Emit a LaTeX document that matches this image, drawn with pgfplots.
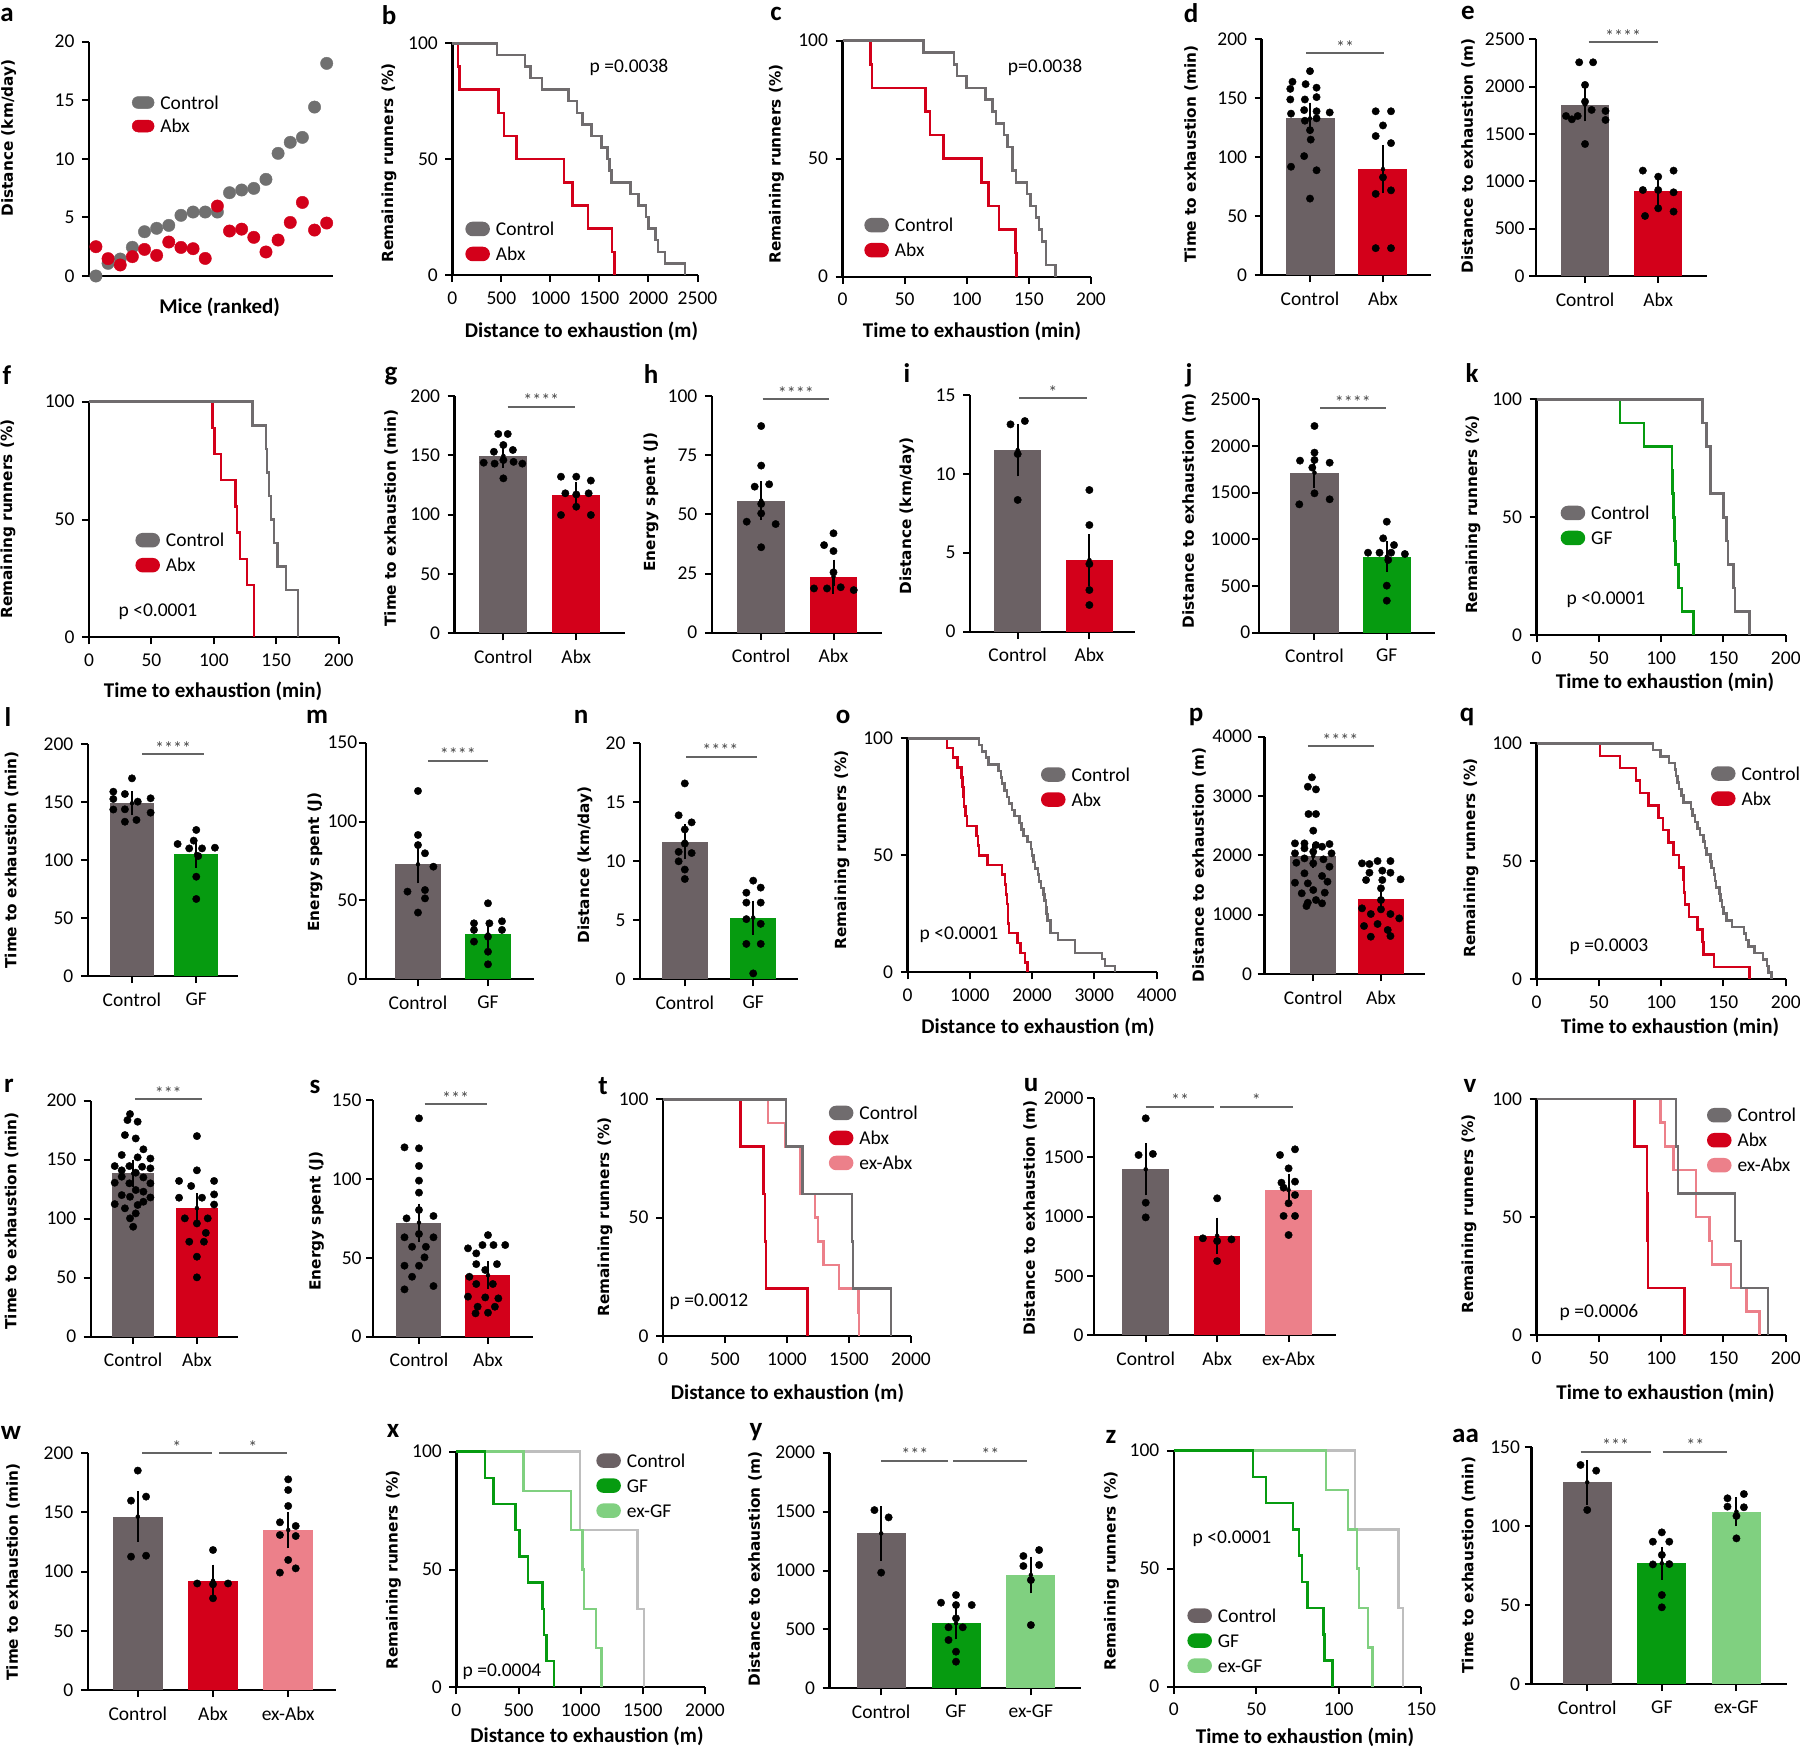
\documentclass[border=0pt]{standalone}
\usepackage{fontspec}
\setmainfont{Carlito}
\newfontfamily\dvs{DejaVu Sans}
\usepackage{pgfplots}
\pgfplotsset{compat=1.18}
\definecolor{cgray}{RGB}{107,97,100}
\definecolor{kmgray}{RGB}{112,108,110}
\definecolor{dotgray}{RGB}{112,112,112}
\definecolor{cred}{RGB}{211,0,26}
\definecolor{cgreen}{RGB}{6,155,16}
\definecolor{lgreen}{RGB}{128,208,128}
\definecolor{cpink}{RGB}{236,128,138}
\definecolor{vlgray}{RGB}{190,190,190}
\definecolor{siggray}{RGB}{100,100,100}
\definecolor{stargray}{RGB}{70,70,70}
\newcommand{\tf}{\fontsize{19.5}{22}\selectfont}
\newcommand{\stf}{\fontsize{18}{20}\selectfont}
\newcommand{\xlf}{\fontsize{21}{24}\selectfont\bfseries}
\newcommand{\ylf}{\dvs\bfseries\fontsize{15.3}{18}\selectfont}
\newcommand{\plf}{\fontsize{27}{30}\selectfont\bfseries}
\newcommand{\PL}[3]{\node[font=\plf, inner sep=0pt] at (#1pt,-#2pt) {#3};}
\newcommand{\YL}[3]{\node[font=\ylf, rotate=90, inner sep=0pt] at (#1pt,-#2pt) {#3};}
\newcommand{\XL}[3]{\node[font=\xlf, inner sep=0pt] at (#1pt,-#2pt) {#3};}
\newcommand{\PV}[3]{\node[font=\tf, inner sep=0pt] at (#1pt,-#2pt) {#3};}
\pgfplotsset{
  base/.style={scale only axis, anchor=south west, clip=false,
    axis x line*=bottom, axis y line*=left,
    axis line style={line width=2.3pt, black, -},
    tick style={line width=2pt, black},
    major tick length=7pt, tick align=outside,
    ticklabel style={font=\tf},
    xticklabel style={yshift=-6pt},
    yticklabel style={xshift=-4pt},
    /pgf/number format/assume math mode=true,
    /pgf/number format/1000 sep={},
    ymin=0,
    legend cell align=left,
    legend style={draw=none, fill=none, inner sep=0pt, outer sep=0pt, font=\tf, anchor=north west, row sep=10.5pt, column sep=6pt, nodes={inner sep=0pt, text height=13pt, text depth=0pt}},
  },
  km/.style={base, ymax=100, ytick={0,50,100}, xmin=0},
  bars/.style={base},
  pill/.style={legend image code/.code={\fill[#1, rounded corners=6pt] (0pt,-6pt) rectangle (22pt,6pt);}},
  kml/.style={const plot, line width=2.5pt, mark=none},
  eb/.style={forget plot, only marks, mark=none, error bars/.cd, y dir=both, y explicit, error bar style={line width=2pt, black}, error mark options={line width=2pt, black, mark size=8pt}},
  dots/.style={forget plot, only marks, mark=*, mark size=3.7pt, black},
  sig/.style={forget plot, siggray, line width=2pt},
  bb/.style={forget plot, ybar, bar shift=0pt, draw=none, fill=#1},
}
\tikzset{star/.style={font=\stf, text=stargray, anchor=base, inner sep=0pt}}
\begin{document}
\begin{tikzpicture}
\useasboundingbox (0pt,0pt) rectangle (1800pt,-1747pt);
% ---------- a
\begin{axis}[base, at={(89pt,-276pt)}, width=244pt, height=234.3pt, xmin=-0.57, xmax=19.52, ymax=20, ytick={0,5,10,15,20}, xtick=\empty, legend style={at={(0.176,0.768)}}]
\addplot[only marks, mark=*, mark size=6.2pt, color=dotgray, pill=dotgray] coordinates {(0,0)(1,1.08)(2,1.45)(3,2.45)(4,3.78)(5,4.07)(6,4.32)(7,5.18)(8,5.46)(9,5.46)(10,5.46)(11,7.11)(12,7.34)(13,7.48)(14,8.25)(15,10.47)(16,11.41)(17,11.83)(18,14.42)(19,18.15)};
\addlegendentry{Control}
\addplot[only marks, mark=*, mark size=6.2pt, color=cred, pill=cred] coordinates {(0,2.5)(1,1.48)(2,0.94)(3,1.65)(4,2.27)(5,1.76)(6,2.9)(7,2.44)(8,2.33)(9,1.5)(10,5.97)(11,3.84)(12,4.0)(13,3.3)(14,2.05)(15,3.07)(16,4.57)(17,6.28)(18,3.92)(19,4.52)};
\addlegendentry{Abx}
\end{axis}
% ---------- b
\begin{axis}[km, at={(452.4pt,-275pt)}, width=245.1pt, height=231.7pt, xmax=2500, xtick={0,500,1000,1500,2000,2500}, legend style={at={(0.053,0.230)}}]
\addplot[kml, kmgray, pill=kmgray] coordinates {(0,100)(457,95)(743,90)(796,85)(913,80)(1183,75)(1270,70)(1329,65)(1417,60)(1522,55)(1581,50)(1600,45)(1622,40)(1815,35)(1897,30)(1973,25)(2002,20)(2073,15)(2096,10)(2166,5)(2371,0)};
\addlegendentry{Control}
\addplot[kml, cred, pill=cred] coordinates {(0,100)(55,90)(70,80)(468,70)(527,60)(656,50)(1136,40)(1224,30)(1382,20)(1628,10)(1651,0)};
\addlegendentry{Abx}
\addplot[kml, kmgray, forget plot] coordinates {(0,100)(457,95)(743,90)(796,85)(913,80)(1183,75)(1270,70)(1329,65)(1417,60)(1522,55)(1581,50)(1600,45)(1622,40)(1815,35)(1897,30)(1973,25)(2002,20)(2073,15)(2096,10)(2166,5)(2371,0)};
\end{axis}
% ---------- c
\begin{axis}[km, at={(842.5pt,-276.7pt)}, width=248.5pt, height=236pt, xmax=200, xtick={0,50,100,150,200}, legend style={at={(0.088,0.249)}}]
\addplot[kml, kmgray, pill=kmgray] coordinates {(0,100)(65.2,95)(89.7,90)(92,85)(99.9,80)(115,75)(120.7,70)(123.4,65)(129.9,60)(132.7,55)(136.8,45)(139.6,40)(148.4,35)(151.2,30)(155.8,25)(158,20)(160.4,15)(163.6,5)(171.5,0)};
\addlegendentry{Control}
\addplot[kml, cred, pill=cred] coordinates {(0,100)(22.4,90)(23.8,80)(66.6,70)(70.3,60)(81.4,50)(111.9,40)(117.4,30)(125.8,20)(139.2,10)(140,0)};
\addlegendentry{Abx}
\addplot[kml, kmgray, forget plot] coordinates {(0,100)(65.2,95)(89.7,90)(92,85)(99.9,80)(115,75)(120.7,70)(123.4,65)(129.9,60)(132.7,55)(136.8,45)(139.6,40)(148.4,35)(151.2,30)(155.8,25)(158,20)(160.4,15)(163.6,5)(171.5,0)};
\end{axis}
% ---------- d
\begin{axis}[bars, at={(1261.6pt,-275.3pt)}, width=169.4pt, height=236pt, xmin=-0.663, xmax=1.658, ymax=200, ytick={0,50,100,150,200}, xtick={0,1}, xticklabels={Control,Abx}]
\addplot[bb=cgray, bar width=49pt] coordinates {(0,133)};
\addplot[bb=cred, bar width=49pt] coordinates {(1,90)};
\addplot[eb] coordinates {(0,133) +- (0,6.5) (1,90) +- (0,13.7)};
\addplot[dots] coordinates {(-0.24,164)(0,173)(-0.27,158)(-0.06,162)(0.09,159)(-0.27,149)(-0.07,149)(0.09,151)(-0.26,137)(-0.08,140)(0.09,139)(0.27,138)(-0.07,131)(0.09,133)(0,123)(0.01,115)(-0.08,101)(-0.26,92)(0.09,89)(0,65)};
\addplot[dots] coordinates {(0.9,139)(1.11,139)(1,127)(0.9,118)(1.11,112)(1,83)(0.9,69)(1.11,72)(0.9,23)(1.11,23)};
\addplot[sig] coordinates {(-0.05,188.1)(1.01,188.1)};
\node[star] at (axis cs:0.48,188.1) {**};
\end{axis}
% ---------- e
\begin{axis}[bars, at={(1536pt,-276pt)}, width=170.5pt, height=236.7pt, xmin=-0.67, xmax=1.66, ymax=2500, ytick={0,500,1000,1500,2000,2500}, xtick={0,1}, xticklabels={Control,Abx}, yticklabel style={xshift=3pt}]
\addplot[bb=cgray, bar width=48.5pt] coordinates {(0,1810)};
\addplot[bb=cred, bar width=48.5pt] coordinates {(1,894)};
\addplot[eb] coordinates {(0,1810) +- (0,92) (1,894) +- (0,58)};
\addplot[dots] coordinates {(-0.08,2257)(0.11,2257)(0,2018)(0,1842)(-0.26,1690)(-0.1,1690)(0.09,1754)(0.28,1743)(-0.18,1655)(0.28,1648)(0,1394)};
\addplot[dots] coordinates {(0.79,1113)(1,1049)(1.21,1113)(0.79,908)(1,908)(1.21,884)(0.82,634)(1,715)(1.21,680)};
\addplot[sig] coordinates {(0.05,2468)(1.0,2468)};
\node[star] at (axis cs:0.52,2468) {****};
\end{axis}
% ---------- f
\begin{axis}[km, at={(89pt,-637.3pt)}, width=249.7pt, height=235.6pt, xmax=200, xtick={0,50,100,150,200}, legend style={at={(0.186,0.443)}}]
\addplot[kml, kmgray, pill=kmgray] coordinates {(0,100)(131,90)(141.6,80)(142.5,70)(144,60)(145.7,50)(148,40)(150.8,30)(157.7,20)(167.4,0)};
\addlegendentry{Control}
\addplot[kml, cred, pill=cred] coordinates {(0,100)(98.9,88.9)(100.7,77.8)(105.7,66.7)(117.2,55.6)(118.6,44.4)(120.9,33.3)(126.4,22.2)(132,0)};
\addlegendentry{Abx}
\addplot[kml, kmgray, forget plot] coordinates {(0,100)(131,90)(141.6,80)(142.5,70)(144,60)(145.7,50)(148,40)(150.8,30)(157.7,20)(167.4,0)};
\end{axis}
% ---------- g
\begin{axis}[bars, at={(454.6pt,-633.3pt)}, width=170pt, height=237.3pt, xmin=-0.669, xmax=1.663, ymax=200, ytick={0,50,100,150,200}, xtick={0,1}, xticklabels={Control,Abx}]
\addplot[bb=cgray, bar width=48pt] coordinates {(0,149.5)};
\addplot[bb=cred, bar width=48pt] coordinates {(1,116.6)};
\addplot[eb] coordinates {(0,149.5) +- (0,3.4) (1,116.6) +- (0,4.3)};
\addplot[dots] coordinates {(-0.07,168)(0.06,168)(0,158.7)(-0.13,153)(0.13,154.5)(-0.27,143.8)(-0.12,143)(0,146)(0.14,144.5)(0.26,143)(0,130.6)};
\addplot[dots] coordinates {(0.79,132)(1,132)(1.2,128.7)(0.85,118)(1,117)(1.17,118)(0.79,99.7)(1,106.7)(1.2,99.7)};
\addplot[sig] coordinates {(0.06,191)(0.98,191)};
\node[star] at (axis cs:0.52,191) {****};
\end{axis}
% ---------- h
\begin{axis}[bars, at={(711.8pt,-632.7pt)}, width=170.5pt, height=236.7pt, xmin=-0.683, xmax=1.675, ymax=100, ytick={0,25,50,75,100}, xtick={0,1}, xticklabels={Control,Abx}]
\addplot[bb=cgray, bar width=47.6pt] coordinates {(0,55.8)};
\addplot[bb=cred, bar width=47.6pt] coordinates {(1,23.7)};
\addplot[eb] coordinates {(0,55.8) +- (0,4.9) (1,23.7) +- (0,3.8)};
\addplot[dots] coordinates {(0,87.3)(0,70.6)(-0.09,61.7)(0.11,62.7)(0,54.4)(-0.2,46.9)(0,50.4)(0.2,45.9)(0,36.1)};
\addplot[dots] coordinates {(1,42)(0.87,37)(1,34.5)(1,25.5)(0.73,18.7)(0.91,18.7)(1.1,19.2)(1.28,18)};
\addplot[sig] coordinates {(0.02,98.7)(0.94,98.7)};
\node[star] at (axis cs:0.48,98.7) {****};
\end{axis}
% ---------- i
\begin{axis}[bars, at={(970pt,-631.7pt)}, width=165.4pt, height=236.7pt, xmin=-0.665, xmax=1.642, ymax=15, ytick={0,5,10,15}, xtick={0,1}, xticklabels={Control,Abx}]
\addplot[bb=cgray, bar width=47.5pt] coordinates {(0,11.51)};
\addplot[bb=cred, bar width=47.5pt] coordinates {(1,4.54)};
\addplot[eb] coordinates {(0,11.51) +- (0,1.16) (1,4.54) +- (0,1.14)};
\addplot[dots] coordinates {(-0.1,13.14)(0.1,13.35)(0,11.26)(0,8.35)};
\addplot[dots] coordinates {(1,8.98)(1,6.76)(1,4.29)(1,2.64)(1,1.69)};
\addplot[sig] coordinates {(0.02,14.79)(0.96,14.79)};
\node[star] at (axis cs:0.49,14.79) {*};
\end{axis}
% ---------- j
\begin{axis}[bars, at={(1258.8pt,-632.7pt)}, width=176.2pt, height=233.4pt, xmin=-0.77, xmax=1.667, ymax=2500, ytick={0,500,1000,1500,2000,2500}, xtick={0,1}, xticklabels={Control,GF}, yticklabel style={xshift=6pt}]
\addplot[bb=cgray, bar width=48.5pt] coordinates {(0,1714)};
\addplot[bb=cgreen, bar width=48.5pt] coordinates {(1,814)};
\addplot[eb] coordinates {(0,1714) +- (0,80) (1,814) +- (0,78)};
\addplot[dots] coordinates {(0,2214)(0,1929)(-0.2,1843)(0,1850)(0.21,1821)(-0.03,1768)(-0.21,1375)(0,1493)(0.21,1429)};
\addplot[dots] coordinates {(1,1189)(0.95,1011)(1.1,939)(0.74,857)(0.9,857)(1.06,857)(1.25,843)(1.02,779)(1,504)(1,343)};
\addplot[sig] coordinates {(0.08,2404)(0.99,2404)};
\node[star] at (axis cs:0.53,2404) {****};
\end{axis}
% ---------- k
\begin{axis}[km, at={(1536.5pt,-635.3pt)}, width=249.3pt, height=236pt, xmax=200, xtick={0,50,100,150,200}, legend style={at={(0.097,0.549)}}]
\addplot[kml, kmgray, pill=kmgray] coordinates {(0,100)(133,90)(136.3,80)(139.5,60)(150.1,50)(152.4,40)(153.8,30)(158,20)(159.4,10)(170.9,0)};
\addlegendentry{Control}
\addplot[kml, cgreen, pill=cgreen] coordinates {(0,100)(67,90)(86.4,80)(108.5,70)(109,60)(110,50)(110.5,40)(111.5,30)(114,20)(116.9,10)(126.1,0)};
\addlegendentry{GF}
\addplot[kml, kmgray, forget plot] coordinates {(0,100)(133,90)(136.3,80)(139.5,60)(150.1,50)(152.4,40)(153.8,30)(158,20)(159.4,10)(170.9,0)};
\end{axis}
% ---------- l
\begin{axis}[bars, at={(87.8pt,-976pt)}, width=150.4pt, height=232pt, xmin=-0.687, xmax=1.652, ymax=200, ytick={0,50,100,150,200}, xtick={0,1}, xticklabels={Control,GF}]
\addplot[bb=cgray, bar width=44pt] coordinates {(0,148.9)};
\addplot[bb=cgreen, bar width=44pt] coordinates {(1,105.2)};
\addplot[eb] coordinates {(0,148.9) +- (0,3.6) (1,105.2) +- (0,5)};
\addplot[dots] coordinates {(0,170.4)(-0.29,158.9)(-0.11,156.9)(-0.29,152.6)(0.09,150.3)(0.29,153.2)(-0.11,143.7)(0.29,140.8)(-0.11,133)(0.07,134.5)(-0.29,143.5)};
\addplot[dots] coordinates {(1,125.9)(0.96,116.7)(0.71,113.8)(0.89,110)(1.09,110)(1.29,110.6)(1.03,103.4)(1,85.6)(1,66.4)};
\addplot[sig] coordinates {(0.16,191.1)(1.12,191.1)};
\node[star] at (axis cs:0.64,191.1) {****};
\end{axis}
% ---------- m
\begin{axis}[bars, at={(365.7pt,-979.3pt)}, width=168.2pt, height=236.6pt, xmin=-0.747, xmax=1.656, ymax=150, ytick={0,50,100,150}, xtick={0,1}, xticklabels={Control,GF}, yticklabel style={xshift=6pt}]
\addplot[bb=cgray, bar width=46pt] coordinates {(0,72.9)};
\addplot[bb=cgreen, bar width=46pt] coordinates {(1,28.5)};
\addplot[eb] coordinates {(0,72.9) +- (0,7) (1,28.5) +- (0,3.3)};
\addplot[dots] coordinates {(0,119.4)(0,91.5)(0,85.1)(0.1,79.9)(0.22,71.4)(-0.15,55.6)(0.1,56.6)(0.1,51.3)(0,42.3)};
\addplot[dots] coordinates {(1,48.2)(0.8,35.5)(1.02,35.5)(1.2,36.8)(0.8,31.3)(1,27)(1.2,31.3)(0.8,23.9)(1,17.5)(1,9.5)};
\addplot[sig] coordinates {(0.14,138.6)(1.0,138.6)};
\node[star] at (axis cs:0.57,138.6) {****};
\end{axis}
% ---------- n
\begin{axis}[bars, at={(640pt,-979.3pt)}, width=158pt, height=236pt, xmin=-0.655, xmax=1.655, ymax=20, ytick={0,5,10,15,20}, xtick={0,1}, xticklabels={Control,GF}]
\addplot[bb=cgray, bar width=46pt] coordinates {(0,11.67)};
\addplot[bb=cgreen, bar width=46pt] coordinates {(1,5.23)};
\addplot[eb] coordinates {(0,11.67) +- (0,0.8) (1,5.23) +- (0,0.77)};
\addplot[dots] coordinates {(0,16.6)(-0.09,13.9)(0.1,13.3)(0,12.7)(0,11.5)(-0.09,10.8)(0.1,10.7)(-0.09,10)(0,9.3)(0,8.5)};
\addplot[dots] coordinates {(1,8.36)(1.11,7.77)(0.9,7.34)(0.9,6.5)(1.11,6.5)(0.9,5.1)(1.11,4.7)(0.9,3.0)(1.11,3.0)(1,0.5)};
\addplot[sig] coordinates {(0.02,18.86)(1.05,18.86)};
\node[star] at (axis cs:0.52,18.86) {****};
\end{axis}
% ---------- o
\begin{axis}[km, at={(907.5pt,-972.3pt)}, width=249.1pt, height=234pt, xmax=4000, xtick={0,1000,2000,3000,4000}, legend style={at={(0.536,0.876)}}]
\addplot[kml, kmgray, pill=kmgray] coordinates {(0,100)(1150,97.2)(1200,94.4)(1260,91.7)(1300,88.9)(1464,86.1)(1500,83.3)(1517,80.6)(1560,77.8)(1600,75)(1630,72.2)(1680,69.4)(1720,66.7)(1796,63.9)(1830,61.1)(1860,58.3)(1930,55.6)(1981,52.8)(2000,50)(2020,47.2)(2050,44.4)(2092,41.7)(2110,38.9)(2140,36.1)(2183,33.3)(2200,30.6)(2220,27.8)(2235,25)(2250,22.2)(2300,16.7)(2414,13.9)(2689,8.3)(3122,5.6)(3170,2.8)(3331,0)};
\addlegendentry{Control}
\addplot[kml, cred, pill=cred] coordinates {(0,100)(634,95.8)(727,91.7)(801,87.5)(865,83.3)(885,79.2)(900,75)(911,70.8)(935,66.7)(958,62.5)(1105,58.3)(1130,54.2)(1150,50)(1281,45.8)(1520,41.7)(1565,37.5)(1580,33.3)(1595,29.2)(1610,20.8)(1630,16.7)(1769,12.5)(1815,8.3)(1886,4.2)(1925,0)};
\addlegendentry{Abx}
\addplot[kml, kmgray, forget plot] coordinates {(0,100)(1150,97.2)(1200,94.4)(1260,91.7)(1300,88.9)(1464,86.1)(1500,83.3)(1517,80.6)(1560,77.8)(1600,75)(1630,72.2)(1680,69.4)(1720,66.7)(1796,63.9)(1830,61.1)(1860,58.3)(1930,55.6)(1981,52.8)(2000,50)(2020,47.2)(2050,44.4)(2092,41.7)(2110,38.9)(2140,36.1)(2183,33.3)(2200,30.6)(2220,27.8)(2235,25)(2250,22.2)(2300,16.7)(2414,13.9)(2689,8.3)(3122,5.6)(3170,2.8)(3331,0)};
\end{axis}
% ---------- p
\begin{axis}[bars, at={(1264.5pt,-974pt)}, width=160.8pt, height=237.3pt, xmin=-0.72, xmax=1.655, ymax=4000, ytick={0,1000,2000,3000,4000}, xtick={0,1}, xticklabels={Control,Abx}, yticklabel style={xshift=2pt}]
\addplot[bb=cgray, bar width=46pt] coordinates {(0,1989)};
\addplot[bb=cred, bar width=46pt] coordinates {(1,1258)};
\addplot[eb] coordinates {(0,1989) +- (0,60) (1,1258) +- (0,84)};
\addplot[dots] coordinates {(-0.02,3315)(-0.08,3157)(0.04,3112)(-0.07,2697)(0.04,2697)(0,2416)(-0.27,2202)(-0.13,2202)(0.04,2174)(0.24,2191)(-0.13,2118)(0.13,2146)(-0.27,2034)(0,2062)(0.27,2034)(-0.13,1949)(0.15,1933)(-0.25,1876)(0,1865)(0.24,1809)(-0.13,1697)(0.13,1652)(-0.27,1539)(-0.08,1528)(0.21,1556)(0,1416)(-0.17,1360)(0.17,1371)(0.04,1247)(-0.08,1202)(-0.1,1146)(0.13,1191)};
\addplot[dots] coordinates {(0.95,1904)(1.14,1904)(0.72,1865)(0.83,1854)(1.02,1742)(0.83,1708)(1.14,1708)(0.78,1584)(1.02,1584)(1.29,1596)(1,1444)(1,1247)(0.72,1107)(1,1090)(0.85,1011)(1.14,1011)(1.27,938)(0.75,809)(0.95,843)(1.1,742)(0.85,629)(1.14,640)};
\addplot[sig] coordinates {(-0.08,3843)(0.89,3843)};
\node[star] at (axis cs:0.4,3843) {****};
\end{axis}
% ---------- q
\begin{axis}[km, at={(1536.5pt,-979.3pt)}, width=249.3pt, height=236pt, xmax=200, xtick={0,50,100,150,200}, legend style={at={(0.700,0.9025)}}]
\addplot[kml, kmgray, pill=kmgray] coordinates {(0,100)(93.3,97.2)(99.3,94.4)(106.2,91.7)(110.9,88.9)(112,86.1)(113.2,83.3)(114.5,80.6)(116.4,77.8)(118,75)(123.8,72.2)(125,69.4)(127,66.7)(129.3,63.9)(131,61.1)(134,58.3)(135,55.6)(136.3,52.8)(139.5,50)(140.5,47.2)(142.3,44.4)(143.2,41.7)(144.1,38.9)(146.9,36.1)(147.8,33.3)(148.7,30.6)(150,27.8)(152.4,25)(157,22.2)(166.3,19.4)(168,16.7)(170,13.9)(175,11.1)(181.5,8.3)(184.8,5.6)(186,2.8)(188.5,0)};
\addlegendentry{Control}
\addplot[kml, cred, pill=cred] coordinates {(0,100)(50.8,94.7)(67,89.5)(80,84.2)(83,78.9)(90,73.7)(98,68.4)(101.6,63.2)(106,57.9)(110,52.6)(114.5,47.4)(117.8,42.1)(118.5,36.8)(119,31.6)(122.4,26.3)(129.3,21.1)(133,15.8)(134,10.5)(142.3,5.3)(171,0)};
\addlegendentry{Abx}
\addplot[kml, kmgray, forget plot] coordinates {(0,100)(93.3,97.2)(99.3,94.4)(106.2,91.7)(110.9,88.9)(112,86.1)(113.2,83.3)(114.5,80.6)(116.4,77.8)(118,75)(123.8,72.2)(125,69.4)(127,66.7)(129.3,63.9)(131,61.1)(134,58.3)(135,55.6)(136.3,52.8)(139.5,50)(140.5,47.2)(142.3,44.4)(143.2,41.7)(144.1,38.9)(146.9,36.1)(147.8,33.3)(148.7,30.6)(150,27.8)(152.4,25)(157,22.2)(166.3,19.4)(168,16.7)(170,13.9)(175,11.1)(181.5,8.3)(184.8,5.6)(186,2.8)(188.5,0)};
\end{axis}
% ---------- r
\begin{axis}[bars, at={(90.7pt,-1336.7pt)}, width=147.5pt, height=236pt, xmin=-0.667, xmax=1.648, ymax=200, ytick={0,50,100,150,200}, xtick={0,1}, xticklabels={Control,Abx}]
\addplot[bb=cgray, bar width=42pt] coordinates {(0,138.4)};
\addplot[bb=cred, bar width=42pt] coordinates {(1,109)};
\addplot[eb] coordinates {(0,138.4) +- (0,4.5) (1,109) +- (0,6)};
\addplot[dots] coordinates {(-0.05,188.7)(-0.09,183.6)(0.07,182.2)(-0.13,170.9)(0.04,168)(0.16,158.8)(-0.18,154)(0.07,152)(0.27,151)(-0.29,144.6)(-0.06,144.6)(0.14,144)(-0.18,141)(0.27,142.7)(0.04,139)(-0.18,135.6)(0.16,135)(-0.29,130.5)(-0.06,130)(0.27,130)(0.04,124.3)(0.16,122.9)(-0.18,120)(-0.05,118.6)(0.27,118)(0.16,114.4)(-0.29,112.4)(0.07,111.6)(-0.13,108.8)(0.04,104.5)(-0.05,100.3)(0,93.2)};
\addplot[dots] coordinates {(1,170)(1,141)(0.72,132)(1.27,132)(0.91,127.7)(1.27,120.6)(0.72,117.8)(1.08,117.8)(1.27,112)(0.81,100.3)(1.17,100.3)(1,96)(1.14,88)(0.88,80.5)(1.11,80.5)(1,67.8)(1,50.3)};
\addplot[sig] coordinates {(0.03,201.4)(1.08,201.4)};
\node[star] at (axis cs:0.55,201.4) {***};
\end{axis}
% ---------- s
\begin{axis}[bars, at={(373.1pt,-1336.7pt)}, width=159.6pt, height=236.7pt, xmin=-0.665, xmax=1.648, ymax=150, ytick={0,50,100,150}, xtick={0,1}, xticklabels={Control,Abx}, yticklabel style={xshift=3pt}]
\addplot[bb=cgray, bar width=45pt] coordinates {(0,72.3)};
\addplot[bb=cred, bar width=45pt] coordinates {(1,39)};
\addplot[eb] coordinates {(0,72.3) +- (0,6.9) (1,39) +- (0,3.6)};
\addplot[dots] coordinates {(0,138.4)(-0.21,120)(0,119.4)(0,108.2)(0,98.9)(0,91.3)(0,80.3)(0.21,76.5)(-0.18,75)(0,65.1)(-0.21,63)(0.21,63)(-0.1,57)(0.1,57)(0.08,50.3)(-0.21,45)(0,45)(-0.1,38)(0.21,32.1)(-0.21,30)};
\addplot[dots] coordinates {(1,64.4)(0.92,58.1)(1.08,58.1)(1.25,58.1)(0.71,56)(0.83,52.8)(0.83,46)(1.13,46)(0.96,42.3)(0.73,38)(0.83,33.4)(1.07,33.4)(0.71,25.4)(0.96,24.9)(1.15,24.3)(0.85,19)(1.1,19)(0.82,14.8)(1,15.2)};
\addplot[sig] coordinates {(0.08,147.3)(0.98,147.3)};
\node[star] at (axis cs:0.53,147.3) {***};
\end{axis}
% ---------- t
\begin{axis}[km, at={(663pt,-1336pt)}, width=248pt, height=236.7pt, xmax=2000, xtick={0,500,1000,1500,2000}, legend style={at={(0.669,0.973)}}]
\addplot[kml, kmgray, pill=kmgray] coordinates {(0,100)(993,80)(1123,60)(1525,40)(1534,20)(1839,0)};
\addlegendentry{Control}
\addplot[kml, cred, pill=cred] coordinates {(0,100)(624,80)(809,60)(823,40)(832,20)(1165,0)};
\addlegendentry{Abx}
\addplot[kml, cpink, pill=cpink] coordinates {(0,100)(846,90)(984,80)(1109,60)(1225,50)(1248,40)(1294,30)(1419,20)(1578,10)(1581,0)};
\addlegendentry{ex-Abx}
\addplot[kml, kmgray, forget plot] coordinates {(0,100)(993,80)(1123,60)(1525,40)(1534,20)(1839,0)};
\end{axis}
% ---------- u
\begin{axis}[bars, at={(1094pt,-1335pt)}, width=242.3pt, height=236.7pt, xmin=-0.724, xmax=2.668, ymax=2000, ytick={0,500,1000,1500,2000}, xtick={0,1,2}, xticklabels={Control,Abx,ex-Abx}, yticklabel style={xshift=4pt}]
\addplot[bb=cgray, bar width=46.5pt] coordinates {(0,1400)};
\addplot[bb=cred, bar width=46.5pt] coordinates {(1,839)};
\addplot[bb=cpink, bar width=46.5pt] coordinates {(2,1225)};
\addplot[eb] coordinates {(0,1400) +- (0,153) (1,839) +- (0,85) (2,1225) +- (0,70)};
\addplot[dots] coordinates {(0,1831)(-0.1,1521)(0.1,1530)(0,1118)(0,994)};
\addplot[dots] coordinates {(1,1155)(0.8,817)(1,794)(1.2,808)(1,625)};
\addplot[dots] coordinates {(2.09,1569)(1.88,1521)(2,1408)(1.9,1287)(2.09,1296)(1.93,1245)(2.09,1183)(2,1113)(1.93,1006)(2.09,1006)(2,845)};
\addplot[sig] coordinates {(0,1929)(0.96,1929)};
\addplot[sig] coordinates {(1.04,1929)(2.06,1929)};
\node[star] at (axis cs:0.48,1929) {**};
\node[star] at (axis cs:1.55,1929) {*};
\end{axis}
% ---------- v
\begin{axis}[km, at={(1536.5pt,-1335.3pt)}, width=249.3pt, height=236.3pt, xmax=200, xtick={0,50,100,150,200}, legend style={at={(0.684,0.962)}}]
\addplot[kml, kmgray, pill=kmgray] coordinates {(0,100)(111.8,80)(113.6,60)(159.4,40)(164,20)(185.7,0)};
\addlegendentry{Control}
\addplot[kml, cred, pill=cred] coordinates {(0,100)(78.5,80)(88.7,60)(89.2,40)(89.6,20)(118.7,0)};
\addlegendentry{Abx}
\addplot[kml, cpink, pill=cpink] coordinates {(0,100)(99.3,90)(103,80)(110,70)(128,50)(138.6,40)(140.9,30)(156.1,20)(168.6,10)(178.8,0)};
\addlegendentry{ex-Abx}
\addplot[kml, kmgray, forget plot] coordinates {(0,100)(111.8,80)(113.6,60)(159.4,40)(164,20)(185.7,0)};
\end{axis}
% ---------- w
\begin{axis}[bars, at={(87.8pt,-1690pt)}, width=248pt, height=236.7pt, xmin=-0.665, xmax=2.633, ymax=200, ytick={0,50,100,150,200}, xtick={0,1,2}, xticklabels={Control,Abx,ex-Abx}]
\addplot[bb=cgray, bar width=50pt] coordinates {(0,146.5)};
\addplot[bb=cred, bar width=50pt] coordinates {(1,92.4)};
\addplot[bb=cpink, bar width=50pt] coordinates {(2,135.2)};
\addplot[eb] coordinates {(0,146.5) +- (0,14.6) (1,92.4) +- (0,6.7) (2,135.2) +- (0,8.5)};
\addplot[dots] coordinates {(0,185.4)(-0.09,160)(0.11,163.4)(-0.09,112.7)(0.11,113.5)};
\addplot[dots] coordinates {(1,118.3)(0.79,90)(1,89.3)(1.2,90)(1,77.5)};
\addplot[dots] coordinates {(2,178)(2,169)(2,155.5)(1.89,141.7)(2.1,138.6)(1.89,131)(2.1,130.1)(2,109.9)(1.89,99.2)(2.1,102.8)};
\addplot[sig] coordinates {(0.06,200)(0.98,200)};
\addplot[sig] coordinates {(1.08,200)(1.98,200)};
\node[star] at (axis cs:0.52,200) {*};
\node[star] at (axis cs:1.53,200) {*};
\end{axis}
% ---------- x
\begin{axis}[km, at={(456.4pt,-1687.3pt)}, width=248.6pt, height=235.6pt, xmax=2000, xtick={0,500,1000,1500,2000}, legend style={at={(0.563,0.993)}}]
\addplot[kml, vlgray, pill=cgray] coordinates {(0,100)(993,66.7)(1455,33.3)(1510,0)};
\addlegendentry{Control}
\addplot[kml, cgreen, pill=cgreen] coordinates {(0,100)(231,88.9)(300,77.8)(476,66.7)(508,55.6)(577,44.4)(693,33.3)(706,22.2)(725,11.1)(785,0)};
\addlegendentry{GF}
\addplot[kml, lgreen, pill=lgreen] coordinates {(0,100)(540,83.3)(923,66.7)(1016,50)(1025,33.3)(1122,16.7)(1168,0)};
\addlegendentry{ex-GF}
\addplot[kml, cgreen, forget plot] coordinates {(0,100)(231,88.9)(300,77.8)(476,66.7)(508,55.6)(577,44.4)(693,33.3)(706,22.2)(725,11.1)(785,0)};
\end{axis}
% ---------- y
\begin{axis}[bars, at={(829.5pt,-1688.3pt)}, width=251.3pt, height=235.6pt, xmin=-0.69, xmax=2.667, ymax=2000, ytick={0,500,1000,1500,2000}, xtick={0,1,2}, xticklabels={Control,GF,ex-GF}]
\addplot[bb=cgray, bar width=49pt] coordinates {(0,1315)};
\addplot[bb=cgreen, bar width=49pt] coordinates {(1,551.6)};
\addplot[bb=lgreen, bar width=49pt] coordinates {(2,962)};
\addplot[eb] coordinates {(0,1315) +- (0,164) (1,551.6) +- (0,68) (2,962) +- (0,89)};
\addplot[dots] coordinates {(-0.09,1513)(0.1,1451)(0,982)};
\addplot[dots] coordinates {(1,792)(0.8,727)(1,707)(1.21,707)(1,594)(0.9,518)(1.09,518)(0.9,410)(1,311)(1,226)};
\addplot[dots] coordinates {(1.9,1123)(2.11,1174)(1.9,1038)(2.11,1047)(2,919)(2,537)};
\addplot[sig] coordinates {(0,1932)(0.89,1932)};
\addplot[sig] coordinates {(0.96,1932)(1.95,1932)};
\node[star] at (axis cs:0.45,1932) {***};
\node[star] at (axis cs:1.46,1932) {**};
\end{axis}
% ---------- z
\begin{axis}[km, at={(1173.8pt,-1686.7pt)}, width=247.4pt, height=236pt, xmax=150, xtick={0,50,100,150}, legend style={at={(0.055,0.332)}}]
\addplot[kml, vlgray, pill=cgray] coordinates {(0,100)(110,66.7)(136.1,33.3)(138.9,0)};
\addlegendentry{Control}
\addplot[kml, cgreen, pill=cgreen] coordinates {(0,100)(48,88.9)(56,77.8)(72.4,66.7)(75.9,55.6)(77.6,44.4)(81.1,33.3)(90.8,22.2)(91.5,11.1)(96.1,0)};
\addlegendentry{GF}
\addplot[kml, lgreen, pill=lgreen] coordinates {(0,100)(92.2,83.3)(105.5,66.7)(111,50)(112.4,33.3)(117.6,16.7)(120.4,0)};
\addlegendentry{ex-GF}
\addplot[kml, cgreen, forget plot] coordinates {(0,100)(48,88.9)(56,77.8)(72.4,66.7)(75.9,55.6)(77.6,44.4)(81.1,33.3)(90.8,22.2)(91.5,11.1)(96.1,0)};
\end{axis}
% ---------- aa
\begin{axis}[bars, at={(1531.5pt,-1684pt)}, width=255.5pt, height=236.7pt, xmin=-0.747, xmax=2.678, ymax=150, ytick={0,50,100,150}, xtick={0,1,2}, xticklabels={Control,GF,ex-GF}, yticklabel style={xshift=3pt}]
\addplot[bb=cgray, bar width=49pt] coordinates {(0,127.8)};
\addplot[bb=cgreen, bar width=49pt] coordinates {(1,76.5)};
\addplot[bb=lgreen, bar width=49pt] coordinates {(2,109.2)};
\addplot[eb] coordinates {(0,127.8) +- (0,9) (1,76.5) +- (0,5.3) (2,109.2) +- (0,4.2)};
\addplot[dots] coordinates {(-0.09,138.8)(0.12,135.2)(0,110.3)};
\addplot[dots] coordinates {(1,96.1)(0.88,90.2)(1.1,90.2)(1,81.8)(0.88,75.8)(1.1,76)(1,56.4)(1,48.6)};
\addplot[dots] coordinates {(1.88,117.7)(2.1,120.4)(1.88,112.4)(2.1,112)(2,106.5)(2,92.3)};
\addplot[sig] coordinates {(-0.09,147.2)(0.85,147.2)};
\addplot[sig] coordinates {(1.01,147.2)(1.88,147.2)};
\node[star] at (axis cs:0.38,147.2) {***};
\node[star] at (axis cs:1.45,147.2) {**};
\end{axis}
% ---------- panel letters
\PL{7}{15}{a}\PL{389}{15.5}{b}\PL{776}{13.5}{c}\PL{1191}{13}{d}\PL{1468}{13}{e}
\PL{7}{375}{f}\PL{391}{376}{g}\PL{651}{374}{h}\PL{907}{373}{i}\PL{1189}{375}{j}\PL{1472}{373}{k}
\PL{8}{717}{l}\PL{317}{717}{m}\PL{581}{717}{n}\PL{843}{717}{o}\PL{1196}{717}{p}\PL{1467}{717}{q}
\PL{9}{1086}{r}\PL{315}{1087}{s}\PL{603}{1086}{t}\PL{1031}{1085}{u}\PL{1470}{1086}{v}
\PL{11}{1433}{w}\PL{393}{1431}{x}\PL{756}{1432}{y}\PL{1111}{1437}{z}\PL{1465.5}{1436}{aa}
% ---------- y labels
\YL{8.6}{138}{Distance (km/day)}
\YL{389}{163}{Remaining runners (\%)}
\YL{776.5}{164}{Remaining runners (\%)}
\YL{1191}{154}{Time to exhaustion (min)}
\YL{1468}{156}{Distance to exhaustion (m)}
\YL{8}{519}{Remaining runners (\%)}
\YL{391}{518}{Time to exhaustion (min)}
\YL{651}{502}{Energy spent (J)}
\YL{907}{516}{Distance (km/day)}
\YL{1189}{511}{Distance to exhaustion (m)}
\YL{1473}{514.5}{Remaining runners (\%)}
\YL{11.5}{860}{Time to exhaustion (min)}
\YL{315}{862}{Energy spent (J)}
\YL{585}{865}{Distance (km/day)}
\YL{842}{850}{Remaining runners (\%)}
\YL{1199}{865}{Distance to exhaustion (m)}
\YL{1471}{858}{Remaining runners (\%)}
\YL{11.5}{1221}{Time to exhaustion (min)}
\YL{316.5}{1221}{Energy spent (J)}
\YL{605}{1217}{Remaining runners (\%)}
\YL{1030}{1218}{Distance to exhaustion (m)}
\YL{1469}{1214}{Remaining runners (\%)}
\YL{13}{1572}{Time to exhaustion (min)}
\YL{393.5}{1570}{Remaining runners (\%)}
\YL{755}{1569}{Distance to exhaustion (m)}
\YL{1111.5}{1571}{Remaining runners (\%)}
\YL{1468.5}{1565}{Time to exhaustion (min)}
% ---------- x labels
\XL{219.6}{307.5}{Mice (ranked)}
\XL{581.5}{331}{Distance to exhaustion (m)}
\XL{972}{331}{Time to exhaustion (min)}
\XL{213}{691}{Time to exhaustion (min)}
\XL{1665}{682}{Time to exhaustion (min)}
\XL{1038}{1027}{Distance to exhaustion (m)}
\XL{1670}{1027}{Time to exhaustion (min)}
\XL{787.5}{1393}{Distance to exhaustion (m)}
\XL{1665.5}{1393}{Time to exhaustion (min)}
\XL{587}{1736}{Distance to exhaustion (m)}
\XL{1305}{1737}{Time to exhaustion (min)}
% ---------- p values
\PV{629}{67}{p =0.0038}
\PV{1045}{67}{p=0.0038}
\PV{158}{612}{p <0.0001}
\PV{1606}{600}{p <0.0001}
\PV{959}{935}{p <0.0001}
\PV{1609}{947}{p =0.0003}
\PV{709}{1302}{p =0.0012}
\PV{1599}{1312}{p =0.0006}
\PV{502}{1672}{p =0.0004}
\PV{1232}{1539}{p <0.0001}
\end{tikzpicture}
\end{document}
